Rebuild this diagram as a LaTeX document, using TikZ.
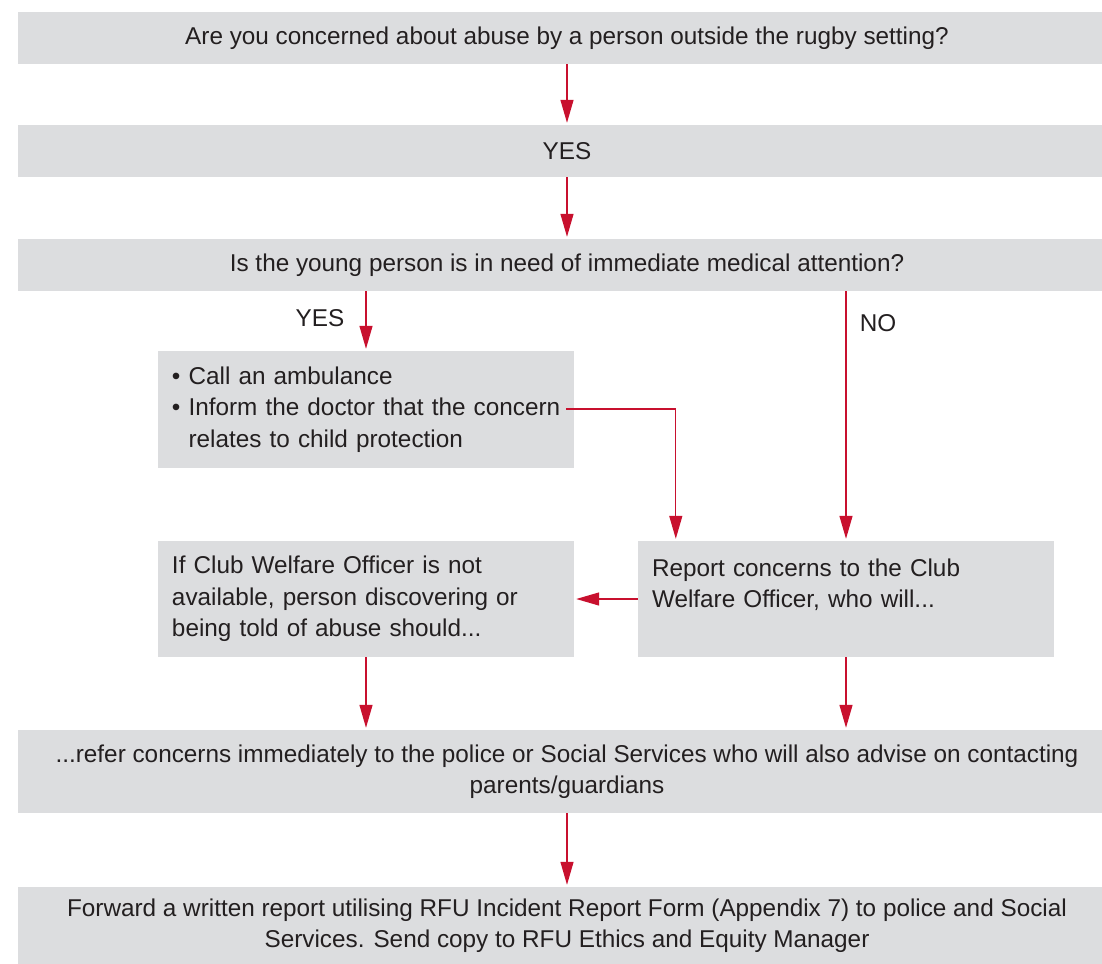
\documentclass[tikz,border=0pt]{standalone}
\usepackage{fontspec}
\setmainfont{Liberation Sans}
\usetikzlibrary{positioning,calc,arrows.meta}
\definecolor{boxgray}{HTML}{DCDDDF}
\definecolor{arrowred}{HTML}{C8102E}
\definecolor{inkgray}{HTML}{231F20}

\begin{document}
\begin{tikzpicture}[x=1bp,y=-1bp,>={Triangle[length=23bp,width=13bp]},
    box/.style={fill=boxgray,inner sep=0pt,text=inkgray,font=\fontsize{24.4}{31.5}\selectfont},
    wide/.style={box,minimum width=1098bp,align=center},
    half/.style={box,minimum width=416bp,minimum height=116bp,inner xsep=14bp,text width=388bp,align=left},
    flow/.style={->,arrowred,line width=1.3bp,shorten >=2bp},
    lbl/.style={text=inkgray,font=\fontsize{24.4}{31.5}\selectfont}]

\useasboundingbox[fill=white] (0,0) rectangle (1102,964);

\node[wide,minimum height=52bp] (concern) at (567,38)  {Are you concerned about abuse by a person outside the rugby setting?};
\node[wide,minimum height=52bp] (yes)     at (567,151) {YES};
\node[wide,minimum height=52bp] (medical) at (567,265) {Is the young person is in need of immediate medical attention?};

\node[half,minimum height=117bp] (ambulance) at (366,409.5)
  {\textbullet\ Call an ambulance\\
   \mbox{\textbullet\ Inform the doctor that the concern}\\
   \phantom{\textbullet\ }relates to child protection};
\node[half] (report) at (846,599)
  {Report concerns to the Club\\Welfare Officer, who will...\\\mbox{}};
\node[half] (nocwo)  at (366,599)
  {If Club Welfare Officer is not\\available, person discovering or\\being told of abuse should...};

\node[wide,minimum height=83bp] (refer)   at (567,771.5)
  {...refer concerns immediately to the police or Social Services who will also advise on contacting\\parents/guardians};
\node[wide,minimum height=77bp] (forward) at (567,925.5)
  {Forward a written report utilising RFU Incident Report Form (Appendix 7) to police and Social\\Services. Send copy to RFU Ethics and Equity Manager};

\node[lbl] (yeslabel) at (320,318) {YES};
\node[lbl] (nolabel)  at (878,323) {NO};
\coordinate (ambout) at (566,409);

\draw[flow] (concern) -- (yes);
\draw[flow] (yes) -- (medical);
\draw[flow] (medical.south -| ambulance.north) -- (ambulance.north);
\draw[flow] (medical.south -| report.north) -- (report.north);
\draw[flow] (ambout) -| ([xshift=38bp]report.north west);
\draw[flow] (report.west) -- (nocwo.east);
\draw[flow] (nocwo.south) -- (nocwo.south |- refer.north);
\draw[flow] (report.south) -- (report.south |- refer.north);
\draw[flow] (refer) -- (forward);
\end{tikzpicture}
\end{document}
